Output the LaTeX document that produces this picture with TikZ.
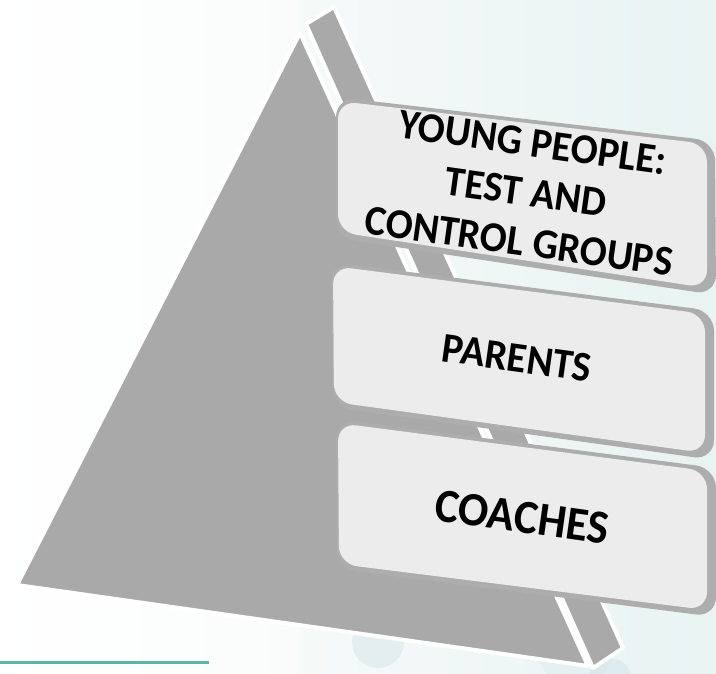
\documentclass[tikz,border=0pt]{standalone}
\usepackage{fontspec}
\setmainfont{Carlito}
\begin{document}
\begin{tikzpicture}[x=1pt,y=-1pt,
  face/.style={fill=pyrgray, draw=white, line width=4pt, line join=round},
  slab/.style={fill=slabgray, rounded corners=20pt},
  panel/.style={fill=panelwhite, fill opacity=0.87, rounded corners=18pt},
  label/.style={font=\bfseries\fontsize{40}{47}\selectfont, text=black, align=center, rotate=-8, inner sep=0pt, yscale=1.06},
  bubble/.style={fill=bubbleblue, opacity=0.35}]
\definecolor{pyrgray}{HTML}{A9A9A9}
\definecolor{slabgray}{HTML}{ADADAD}
\definecolor{panelwhite}{HTML}{F6F6F6}
\definecolor{bgteal}{HTML}{E8F3F2}
\definecolor{tealline}{HTML}{5DB5A6}
\definecolor{bubbleblue}{HTML}{C9DCE6}
% background
\useasboundingbox (0,0) rectangle (716,674);
\shade[left color=white, right color=bgteal] (0,0) rectangle (716,674);
\fill[white, opacity=0.5] (0,0) rectangle (300,674);
% faint bubbles
\fill[bubble] (378,642) circle (26);
\fill[bubble, opacity=0.2] (575,648) circle (38);
\fill[bubble, opacity=0.12] (655,495) circle (26);
\fill[bubble] (610,680) circle (22);
% teal line
\draw[tealline, line width=3pt] (0,662) -- (209,662);
% pyramid
\path[face] (300,33) -- (588,666) -- (17,585) -- cycle;
\path[face] (306,24) -- (334,7) -- (623,648) -- (593,668) -- cycle;
% box 1
\path[slab] (336,97) -- (715,141) -- (716,295) -- (336,238) -- cycle;
\path[panel] (338,101) -- (707,144) -- (707,288) -- (338,232) -- cycle;
% box 2
\path[slab] (331,262) -- (714,311) -- (714,460) -- (332,407) -- cycle;
\path[panel] (333,266) -- (705,314) -- (705,453) -- (334,402) -- cycle;
% box 3
\path[slab] (336,419) -- (716,468) -- (716,617) -- (337,569) -- cycle;
\path[panel] (338,423) -- (707,471) -- (707,610) -- (339,564) -- cycle;
% labels
\node[label] (young) at (526,192) {YOUNG PEOPLE:\\TEST AND\\CONTROL GROUPS};
\node[label] (parents) at (517,358) {PARENTS};
\node[label, font=\bfseries\fontsize{45}{50}\selectfont] (coaches) at (522,517) {COACHES};
\end{tikzpicture}
\end{document}
